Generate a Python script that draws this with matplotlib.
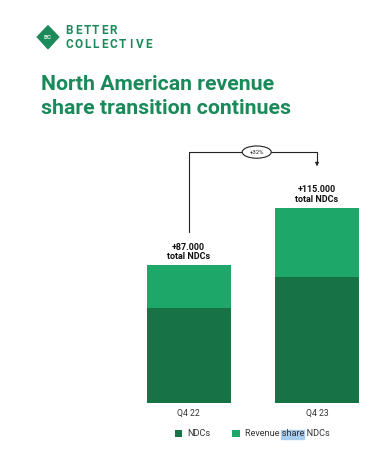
import matplotlib
matplotlib.use("Agg")
import matplotlib.pyplot as plt
from matplotlib.patches import Polygon, Ellipse, Rectangle

# data (bar heights, in thousands)
quarters = ["Q4 22", "Q4 23"]
ndcs = [56, 74]
rev_share = [25, 41]
total_labels = ["+87.000\ntotal NDCs", "+115.000\ntotal NDCs"]
growth_label = "+32%"
title_lines = ["North American revenue", "share transition continues"]

dark = "#177346"
light = "#1da86a"
brand = "#1b8a5a"

plt.rcParams["font.family"] = ["Roboto", "DejaVu Sans"]

W, H = 376, 450
fig = plt.figure(figsize=(W / 100, H / 100), dpi=100)

# logo
diamond = Polygon([(48 / W, 1 - 25.7 / H), (58.7 / W, 1 - 37 / H),
                   (48 / W, 1 - 48.7 / H), (37.3 / W, 1 - 37 / H)],
                  closed=True, transform=fig.transFigure, color=brand)
fig.patches.append(diamond)
fig.text(48 / W, 1 - 37.3 / H, "BC", color="#dff0e6", fontsize=4.5,
         ha="center", va="center", fontweight="bold")
for row, word in enumerate(["BETTER", "COLLECTIVE"]):
    for i, ch in enumerate(word):
        fig.text((69.5 + i * 8.75) / W, 1 - (30.5 + row * 13.8) / H, ch,
                 color=brand, fontsize=8.5, ha="center", va="center",
                 fontweight="bold")

# title, one text per line
for i, line in enumerate(title_lines):
    fig.text(41 / W, 1 - (89.5 + i * 25) / H, line, color=brand,
             fontsize=15.3, fontweight="bold", ha="left", va="baseline")

# chart axes
ax = fig.add_axes([140 / W, 47 / H, 226 / W, 273 / H])
ax.set_xlim(-0.38, 1.382)
ax.set_ylim(0, 160.6)
x = [0, 1]
ax.bar(x, ndcs, width=0.655, color=dark, label="NDCs")
ax.bar(x, rev_share, width=0.655, bottom=ndcs, color=light,
       label="Revenue share NDCs")

totals = [a + b for a, b in zip(ndcs, rev_share)]
for xi, t, lab in zip(x, totals, total_labels):
    ax.text(xi, t + 2.3, lab, ha="center", va="bottom", fontsize=6.5,
            fontweight="bold", color="#111111", linespacing=1.1)

# growth connector
y_top = max(totals) + 32.6
ax.plot([x[0], x[0], x[1], x[1]],
        [totals[0] + 19.8, y_top, y_top, totals[1] + 27],
        color="#222222", lw=0.8)
ax.annotate("", xy=(x[1], totals[1] + 22.6), xytext=(x[1], totals[1] + 28),
            arrowprops=dict(arrowstyle="-|>", color="#222222", lw=0.8,
                            mutation_scale=5))
xm = 0.53
ax.add_patch(Ellipse((xm, y_top), 0.226, 7.2, facecolor="white",
                     edgecolor="#222222", lw=0.8, zorder=3))
ax.text(xm, y_top, growth_label, ha="center", va="center", fontsize=4.3,
        color="#222222", zorder=4)

ax.set_xticks(x)
ax.set_xticklabels(quarters, fontsize=6.2, color="#333333")
ax.tick_params(axis="x", length=0, pad=4)
ax.set_yticks([])
for s in ax.spines.values():
    s.set_visible(False)

leg = fig.legend(loc="center", bbox_to_anchor=(252 / W, 1 - 434 / H),
                 ncol=2, frameon=False, fontsize=6.6, handlelength=0.85,
                 handleheight=0.85, handletextpad=0.5, columnspacing=2.4)
for t in leg.get_texts():
    t.set_color("#333333")

# selection highlight behind "share"
fig.canvas.draw()
r = fig.canvas.get_renderer()
txt = leg.get_texts()[1]
bb = txt.get_window_extent(r)
probe = fig.text(0, 0, "Revenue ", fontsize=6.6)
w0 = probe.get_window_extent(r).width
probe.set_text("share")
w1 = probe.get_window_extent(r).width
probe.remove()
fig.patches.append(Rectangle(((bb.x0 + w0) / W, bb.y0 / H), w1 / W,
                             bb.height / H, transform=fig.transFigure,
                             color="#a9cdef", zorder=0))

fig.savefig("out.png", dpi=100)
